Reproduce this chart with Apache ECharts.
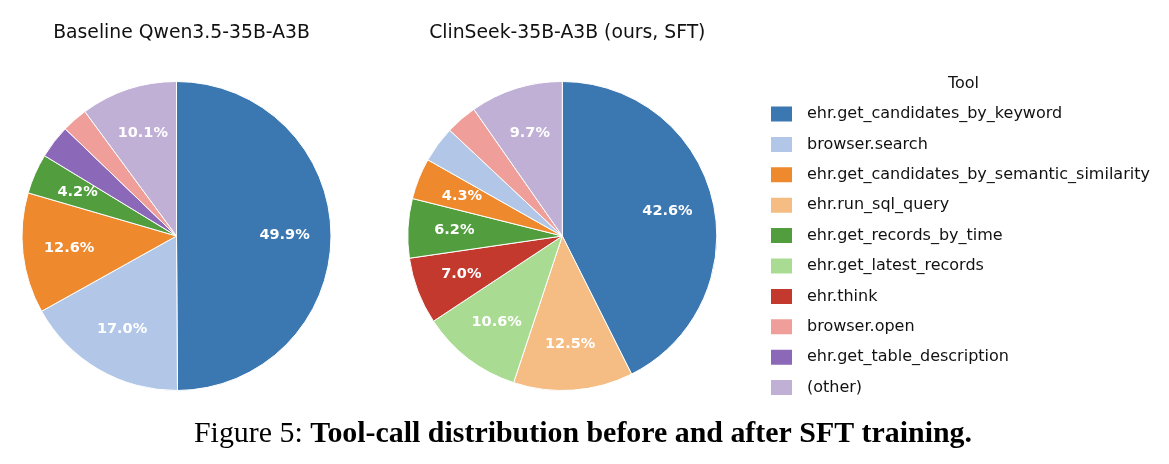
<!DOCTYPE html>
<html>
<head>
<meta charset="utf-8">
<script src="https://cdn.jsdelivr.net/npm/echarts@6/dist/echarts.min.js"></script>
<style>
html,body{margin:0;padding:0;background:#fff;}
#chart{width:1169px;height:464px;}
</style>
</head>
<body>
<div id="chart"></div>
<script>
// Tool names (legend order)
var tools = [
  'ehr.get_candidates_by_keyword',
  'browser.search',
  'ehr.get_candidates_by_semantic_similarity',
  'ehr.run_sql_query',
  'ehr.get_records_by_time',
  'ehr.get_latest_records',
  'ehr.think',
  'browser.open',
  'ehr.get_table_description',
  '(other)'
];
var toolColors = ['#3b77b0','#b2c7e7','#ef892e','#f5bd83','#529e3f','#a9dc92','#c3392e','#ef9e99','#8c69b8','#c0b0d5'];

// Baseline pie (clockwise from top)
var baselineNames  = ['ehr.get_candidates_by_keyword','browser.search','ehr.get_candidates_by_semantic_similarity','ehr.get_records_by_time','ehr.get_table_description','browser.open','(other)'];
var baselineValues = [49.9, 17.0, 12.6, 4.2, 3.5, 2.7, 10.1];

// ClinSeek pie (clockwise from top)
var clinNames  = ['ehr.get_candidates_by_keyword','ehr.run_sql_query','ehr.get_latest_records','ehr.think','ehr.get_records_by_time','ehr.get_candidates_by_semantic_similarity','browser.search','browser.open','(other)'];
var clinValues = [42.6, 12.5, 10.6, 7.0, 6.2, 4.3, 3.8, 3.3, 9.7];

var titles = ['Baseline Qwen3.5-35B-A3B', 'ClinSeek-35B-A3B (ours, SFT)'];
var labelThreshold = 4;

function colorOf(name){ return toolColors[tools.indexOf(name)]; }

function mkData(names, values, overlay){
  return names.map(function(n,i){
    var d = {name:n, value:values[i]};
    if (overlay) {
      d.itemStyle = {color:'rgba(0,0,0,0)', borderWidth:0};
      d.label = {show: values[i] >= labelThreshold};
    } else {
      d.itemStyle = {color: colorOf(n)};
    }
    return d;
  });
}

var centers = [[176.5, 236], [562.3, 236]];
var R = 154.5;

function piePair(names, values, center){
  return [{
    type:'pie', center:center, radius:[0,R], startAngle:90, clockwise:true,
    data: mkData(names, values, false),
    label:{show:false}, labelLine:{show:false},
    itemStyle:{borderColor:'#ffffff', borderWidth:1},
    emphasis:{disabled:true}, animation:false, silent:true
  }];
}
function labelPie(names, values, center){
  return {
    type:'pie', center:center, radius:[0,R*1.36], startAngle:90, clockwise:true,
    data: mkData(names, values, true),
    avoidLabelOverlap:false, silent:true, legendHoverLink:false,
    label:{show:true, position:'inside', color:'#ffffff', fontFamily:'DejaVu Sans', fontWeight:'bold', fontSize:14.5,
      formatter:function(p){ return p.value.toFixed(1)+'%'; }},
    labelLine:{show:false}, emphasis:{disabled:true}, animation:false
  };
}

var chart = echarts.init(document.getElementById('chart'), null, {renderer:'canvas'});
var option = {
  backgroundColor:'#ffffff',
  animation:false,
  title:[
    {text:titles[0], left:176.5, top:19, textAlign:'center', textStyle:{fontFamily:'DejaVu Sans', fontWeight:'normal', fontSize:18.8, color:'#111'}},
    {text:titles[1], left:562.3, top:19, textAlign:'center', textStyle:{fontFamily:'DejaVu Sans', fontWeight:'normal', fontSize:18.8, color:'#111'}},
    {text:'Tool', left:958.5, top:71, textAlign:'center', textStyle:{fontFamily:'DejaVu Sans', fontWeight:'normal', fontSize:16, color:'#111'}},
    {text:'{r|Figure 5: }{b|Tool-call distribution before and after SFT training.}', left:578, top:414, textAlign:'center',
      textStyle:{rich:{
        r:{fontFamily:'Liberation Serif', fontSize:29.9, fontWeight:'normal', color:'#000'},
        b:{fontFamily:'Liberation Serif', fontSize:29.9, fontWeight:'bold', color:'#000'}
      }}}
  ],
  legend:{
    orient:'vertical', left:764, top:99.5,
    data: tools, icon:'rect', itemWidth:23, itemHeight:17, itemGap:11.4,
    textStyle:{fontFamily:'DejaVu Sans', fontSize:16, color:'#111', lineHeight:17, padding:[0,0,0,9]},
    selectedMode:false
  },
  series: [].concat(
    piePair(baselineNames, baselineValues, centers[0]),
    piePair(clinNames, clinValues, centers[1]),
    [labelPie(baselineNames, baselineValues, centers[0]),
     labelPie(clinNames, clinValues, centers[1])]
  )
};
chart.setOption(option);
</script>
</body>
</html>
